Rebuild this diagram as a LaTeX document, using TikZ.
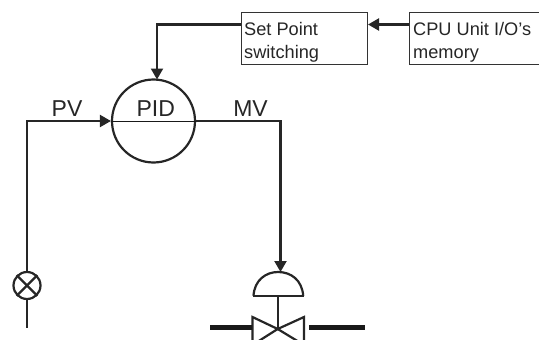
\documentclass[tikz,border=0pt]{standalone}
\usepackage{fontspec}
\setmainfont{Liberation Sans}
\usetikzlibrary{arrows.meta,calc}
\tikzset{
  pipeline/.style={line width=2.2pt,draw=black!85},
  flow/.style={pipeline,-{Triangle[length=11pt,width=12pt]}},
  boxnode/.style={draw=black!80,line width=0.9pt,minimum height=52.3pt,anchor=north west,inner sep=0pt},
  boxlabel/.style={anchor=base west,inner sep=0pt,align=left,font=\fontsize{18.2}{24}\selectfont,text=black!85},
  biglabel/.style={anchor=base,inner sep=0pt,font=\fontsize{23}{25}\selectfont,text=black!85},
  sym/.style={line width=2.2pt,draw=black!85},
}
\begin{document}
\begin{tikzpicture}[x=1pt,y=-1pt]
\useasboundingbox (0,0) rectangle (539,340);
% boxes
\node[boxnode,minimum width=126pt] (sp) at (240.7,11.7) {};
\node[boxnode,minimum width=150pt] (cpu) at (409.3,11.7) {};
\node[boxlabel] (sptxt) at (244,35.5) {Set Point};
\node[boxlabel] (sptxtb) at (244,58.5) {switching};
\node[boxlabel] (cputxt) at (413,35.5) {CPU Unit I/O’s};
\node[boxlabel] (cputxtb) at (413,58.5) {memory};
% PID
\node[circle,sym,minimum size=83pt,inner sep=0pt] (pid) at (153.5,121) {};
\draw[line width=1pt,draw=black!90] (pid.west) -- (pid.east);
\node[biglabel] (pidtxt) at (155.7,116.7) {PID};
\node[biglabel] (pv) at (67,116.7) {PV};
\node[biglabel] (mv) at (250.5,116.7) {MV};
% sensor
\node[circle,sym,minimum size=27pt,inner sep=0pt] (sensor) at (27,285.5) {};
\draw[sym] (sensor.north west) -- (sensor.south east);
\draw[sym] (sensor.north east) -- (sensor.south west);
\coordinate (sensorend) at (27,328);
\coordinate (pvcorner) at (27,121);
\coordinate (mvcorner) at (280.5,121);
\coordinate (domebaseL) at (252.5,295.7);
\coordinate (domebaseR) at (304,295.7);
\coordinate (dometop) at (280.5,272);
\coordinate (valve) at (277.7,329);
% connectors
\draw[pipeline] (sensor.south) -- (sensorend);
\draw[flow] (sensor.north) -- (pvcorner) -- (pid.west);
\draw[flow] (pid.east) -- (mvcorner) -- (dometop);
\coordinate (spout) at (240.7,24.5);
\coordinate (spin) at (368,24.5);
\coordinate (cpuout) at (409.3,24.5);
\coordinate (pidtop) at (157,79.5);
\draw[flow] (spout) -- (157,24.5) -- (pidtop);
\draw[flow] (cpuout) -- (spin);
% actuator
\draw[sym,line join=round] (domebaseL) -- (domebaseR);
\draw[sym] (253.5,295.7) .. controls (254.5,280) and (266,272) .. (278,272) .. controls (291,272) and (302,280) .. (303.2,295.7);
\draw[sym] (277.7,295.7) -- (valve);
% valve
\draw[sym,line join=miter] (valve) -- (252.5,317) -- (252.5,345) -- cycle;
\draw[sym,line join=miter] (valve) -- (304,317) -- (304,345) -- cycle;
% pipes
\coordinate (pipeLa) at (210,327.3);
\coordinate (pipeLb) at (252,327.3);
\coordinate (pipeRa) at (309,327.3);
\coordinate (pipeRb) at (365,327.3);
\draw[line width=5pt,draw=black!90] (pipeLa) -- (pipeLb);
\draw[line width=5pt,draw=black!90] (pipeRa) -- (pipeRb);
\end{tikzpicture}
\end{document}
